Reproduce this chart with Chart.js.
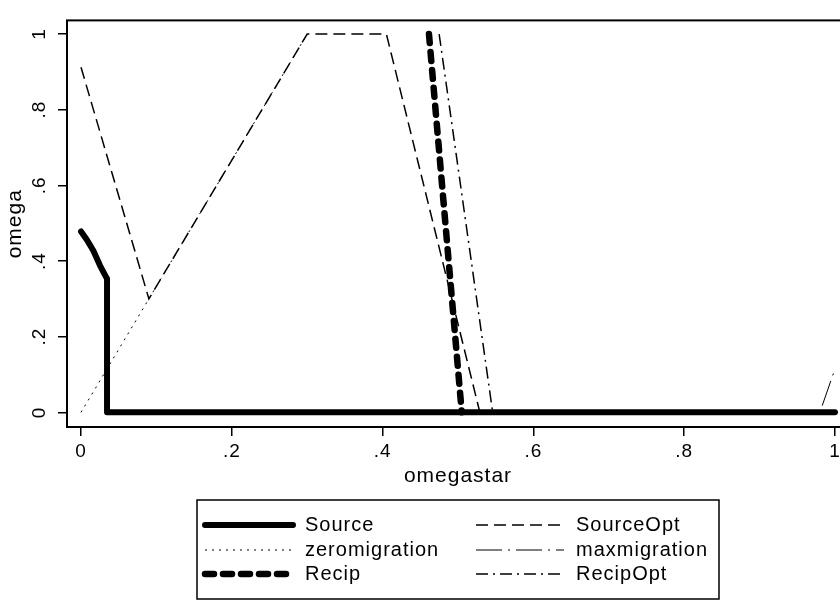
<!DOCTYPE html>
<html>
<head>
<meta charset="utf-8">
<script src="https://cdn.jsdelivr.net/npm/chart.js@4.4.1/dist/chart.umd.min.js"></script>
<style>
  html, body { margin: 0; padding: 0; background: #fff; overflow: hidden; }
</style>
</head>
<body>
<canvas id="omegaChart" width="860" height="600"></canvas>
<script>
// axis ticks
const xTicks = [0, 0.2, 0.4, 0.6, 0.8, 1];
const xTickLabels = ['0', '.2', '.4', '.6', '.8', '1'];
const yTicks = [0, 0.2, 0.4, 0.6, 0.8, 1];
const yTickLabels = ['0', '.2', '.4', '.6', '.8', '1'];

// series
const sourceX = [0, 0.0075, 0.0164, 0.0252, 0.034, 0.0345, 0.0345, 1];
const sourceY = [0.478, 0.457, 0.427, 0.388, 0.355, 0.353, 0, 0];

const sourceOptX = [0, 0.09, 0.30, 0.405, 0.529];
const sourceOptY = [0.912, 0.30, 1, 1, 0];

const zeroMigX = [0, 0.30];
const zeroMigY = [0, 1];

const maxMigX = [0.0345, 0.98, 1];
const maxMigY = [0, 0, 0.115];

const recipX = [0.4615, 0.505];
const recipY = [1, 0];

const recipOptX = [0.475, 0.546];
const recipOptY = [1, 0];

function pts(xs, ys) {
    return xs.map((x, i) => ({ x: x, y: ys[i] }));
}

const FONT = "'Liberation Sans', Arial, sans-serif";

const datasets = [
    { label: 'Source', data: pts(sourceX, sourceY), borderWidth: 6, borderDash: [], borderCapStyle: 'round', borderJoinStyle: 'round' },
    { label: 'SourceOpt', data: pts(sourceOptX, sourceOptY), borderWidth: 1.5, borderDash: [12, 6] },
    { label: 'zeromigration', data: pts(zeroMigX, zeroMigY), borderWidth: 1, borderDash: [2, 5] },
    { label: 'maxmigration', data: pts(maxMigX, maxMigY), borderWidth: 1, borderDash: [26, 6, 2, 6] },
    { label: 'Recip', data: pts(recipX, recipY), borderWidth: 6.5, borderDash: [9, 9], borderCapStyle: 'round' },
    { label: 'RecipOpt', data: pts(recipOptX, recipOptY), borderWidth: 1.5, borderDash: [12, 5, 2, 5] }
].map(ds => Object.assign({
    borderColor: '#000',
    backgroundColor: '#000',
    pointRadius: 0,
    tension: 0,
    fill: false
}, ds));

// stata spaces its glyphs a bit wider; canvas resize wipes the setting so redo it
const spacing = {
    id: 'spacing',
    beforeUpdate(chart) { chart.ctx.letterSpacing = '1px'; },
    beforeDraw(chart) { chart.ctx.letterSpacing = '1px'; }
};

// frame round the plot region + the boxed legend below
const stataFrame = {
    id: 'stataFrame',
    afterDatasetsDraw(chart) {
        const { ctx, chartArea: a } = chart;
        ctx.save();
        ctx.strokeStyle = '#000';
        ctx.lineWidth = 2;
        ctx.strokeRect(a.left, a.top, a.right - a.left, a.bottom - a.top);
        ctx.restore();
    },
    afterDraw(chart) {
        const ctx = chart.ctx;
        const box = { x: 197, y: 500, w: 522, h: 99 };
        ctx.save();
        ctx.strokeStyle = '#000';
        ctx.lineWidth = 1.5;
        ctx.strokeRect(box.x, box.y, box.w, box.h);
        ctx.font = '20px ' + FONT;
        ctx.letterSpacing = '1px';
        ctx.fillStyle = '#000';
        ctx.textBaseline = 'middle';
        const cols = [{ x0: 205, x1: 293, tx: 305 }, { x0: 476, x1: 564, tx: 576 }];
        const rows = [525, 550, 574];
        chart.data.datasets.forEach((ds, i) => {
            const c = cols[i % 2];
            const y = rows[Math.floor(i / 2)];
            ctx.beginPath();
            ctx.lineWidth = ds.borderWidth;
            ctx.setLineDash(ds.borderDash || []);
            ctx.lineCap = ds.borderCapStyle || 'butt';
            ctx.moveTo(c.x0, y);
            ctx.lineTo(c.x1, y);
            ctx.stroke();
            ctx.setLineDash([]);
            ctx.fillText(ds.label, c.tx, y);
        });
        ctx.restore();
    }
};

const ctx = document.getElementById('omegaChart').getContext('2d');

const myChart = new Chart(ctx, {
    type: 'line',
    data: { datasets: datasets },
    options: {
        responsive: false,
        animation: false,
        layout: { padding: { top: 10, right: 11, bottom: 107, left: 0 } },
        plugins: {
            legend: { display: false },
            tooltip: { enabled: false }
        },
        scales: {
            x: {
                type: 'linear',
                min: -0.0186,
                max: 1.0186,
                afterBuildTicks: s => { s.ticks = xTicks.map(v => ({ value: v })); },
                afterFit: s => { s.height = 66; },
                border: { display: false },
                grid: { drawOnChartArea: false, drawTicks: true, tickLength: 9, color: '#000', lineWidth: 1.5 },
                ticks: {
                    color: '#000',
                    font: { family: FONT, size: 19 },
                    padding: 4,
                    maxRotation: 0,
                    callback: v => xTickLabels[xTicks.indexOf(v)]
                },
                title: { display: true, text: 'omegastar', color: '#000', font: { family: FONT, size: 21 }, padding: { top: 0, bottom: 4 } }
            },
            y: {
                type: 'linear',
                min: -0.0387,
                max: 1.036,
                afterBuildTicks: s => { s.ticks = yTicks.map(v => ({ value: v })); },
                afterFit: s => { s.width = 67; },
                border: { display: false },
                grid: { drawOnChartArea: false, drawTicks: true, tickLength: 9, color: '#000', lineWidth: 1.5 },
                ticks: {
                    color: '#000',
                    font: { family: FONT, size: 19 },
                    padding: 9,
                    minRotation: 90,
                    maxRotation: 90,
                    crossAlign: 'center',
                    callback: v => yTickLabels[yTicks.indexOf(v)]
                },
                title: { display: true, text: 'omega', color: '#000', font: { family: FONT, size: 21 }, padding: { top: 3, bottom: 0 } }
            }
        }
    },
    plugins: [spacing, stataFrame]
});
</script>
</body>
</html>
